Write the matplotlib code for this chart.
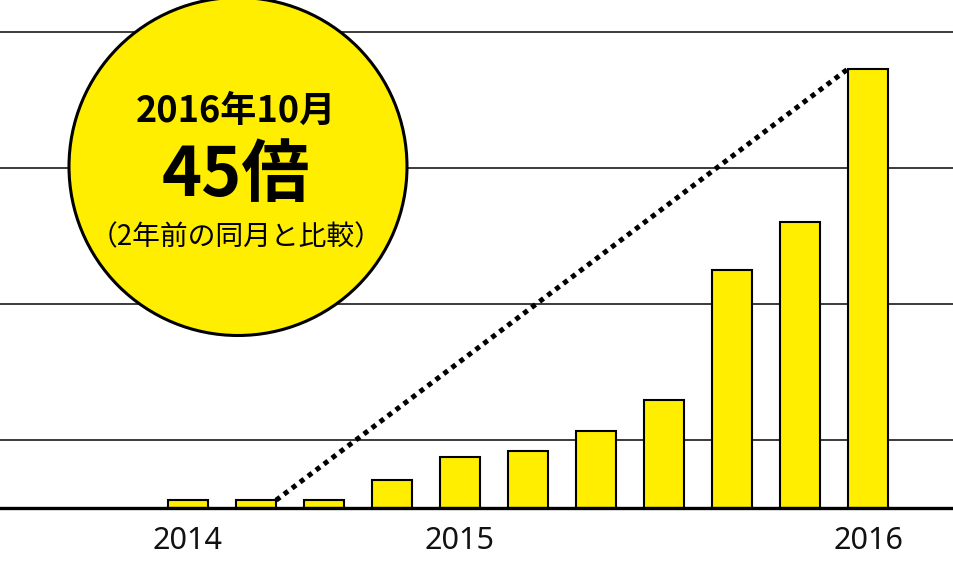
import matplotlib
matplotlib.use("Agg")
import matplotlib.pyplot as plt
from matplotlib.patches import Circle

# values relative scale (2 years earlier ~ 1)
months = ["2014-10", "2014-12", "2015-02", "2015-04", "2015-06", "2015-08",
          "2015-10", "2015-12", "2016-04", "2016-07", "2016-10"]
values = [0.8, 0.8, 0.8, 2.9, 5.25, 5.9, 7.9, 11.1, 24.5, 29.4, 45.2]
grid_values = [7, 21, 35, 49]
year_ticks = [0, 4, 10]
year_labels = ["2014", "2015", "2016"]

YELLOW = "#FFEE00"
CJK = ["Noto Sans CJK JP", "DejaVu Sans"]

fig = plt.figure(figsize=(9.54, 5.63), dpi=100)
ax = fig.add_axes([0, 0, 1, 1])
ax.set_xlim(-188 / 68, (954 - 188) / 68)
ax.set_ylim(-55 / 9.714, 508 / 9.714)
ax.set_axis_off()

for g in grid_values:
    ax.axhline(g, color="#1a1a1a", lw=1.2, zorder=1)
ax.axhline(0, color="black", lw=2.4, zorder=3)

x = list(range(len(values)))
bar_w = 0.59
ax.bar(x, values, width=bar_w, bottom=0, color=YELLOW, edgecolor="black",
       linewidth=1.5, zorder=2)

# dotted comparison line, 2 years apart
ax.plot([x[1] + bar_w / 2, x[10] - bar_w / 2], [values[1], values[10]],
        color="black", lw=3.6, linestyle=(0, (1, 1.0)), dash_capstyle="butt",
        zorder=4)

for t, lab in zip(year_ticks, year_labels):
    ax.text(t, -3.4, lab, ha="center", va="center", fontsize=22,
            family="Noto Sans", color="#111111")

circ = Circle((2.38, 5.63 - 1.665), 1.69, transform=fig.dpi_scale_trans,
              facecolor=YELLOW, edgecolor="black", lw=2.2, zorder=10)
fig.patches.append(circ)

fig.text(236 / 954, 1 - 111 / 563, "2016年10月", ha="center", va="center",
         fontsize=26, fontweight="bold", family=CJK, zorder=11)
fig.text(236 / 954, 1 - 176 / 563, "45倍", ha="center", va="center",
         fontsize=49, fontweight="bold", family=CJK, zorder=11)
fig.text(236 / 954, 1 - 237 / 563, "（2年前の同月と比較）", ha="center",
         va="center", fontsize=20, family=CJK, zorder=11)

fig.savefig("out.png", dpi=100)
